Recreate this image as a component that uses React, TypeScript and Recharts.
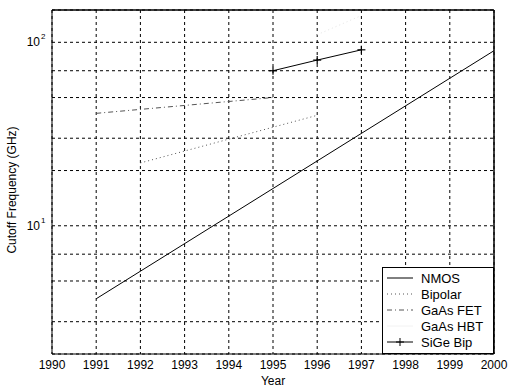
import { LineChart, Line, XAxis, YAxis, CartesianGrid, ReferenceLine } from "recharts";

const years = [1990, 1991, 1992, 1993, 1994, 1995, 1996, 1997, 1998, 1999, 2000];
const nmos = [null, 4, null, null, null, null, null, null, null, null, 90];
const bipolar = [null, null, 22, null, null, null, 40, null, null, null, null];
const gaasFet = [null, 41, null, null, null, 50, null, null, null, null, null];
const gaasHbt = [null, null, null, null, null, null, 110, 140, null, null, null];
const sigeBip = [null, null, null, null, null, 70, 80, 91, null, null, null];

const yTicks = [3, 4, 5, 6, 7, 8, 9, 10, 20, 30, 40, 50, 60, 70, 80, 90, 100];

const data = years.map((y, i) => ({
    year: y,
    nmos: nmos[i],
    bipolar: bipolar[i],
    gaasFet: gaasFet[i],
    gaasHbt: gaasHbt[i],
    sigeBip: sigeBip[i],
}));

const font = "Arial, 'Liberation Sans', Helvetica, sans-serif";

const legendItems = [
    { name: "NMOS", stroke: "#000", dash: undefined, plus: false },
    { name: "Bipolar", stroke: "#555", dash: "1 3", plus: false },
    { name: "GaAs FET", stroke: "#555", dash: "5 3 1 3", plus: false },
    { name: "GaAs HBT", stroke: "#f2f2f2", dash: undefined, plus: false },
    { name: "SiGe Bip", stroke: "#000", dash: undefined, plus: true },
];

const YTick = (props: any) => {
    const { x, y, payload } = props;
    const v = payload.value;
    if (v !== 10 && v !== 100) return null;
    const exp = v === 10 ? "1" : "2";
    return (
        <g>
            <text x={x - 4} y={y + 4} textAnchor="end" fontSize={12} fontFamily={font} fill="#000">10</text>
            <text x={x - 3} y={y - 3} fontSize={8} fontFamily={font} fill="#000">{exp}</text>
        </g>
    );
};

const PlusDot = (props: any) => {
    const { cx, cy, value } = props;
    if (value == null || cx == null) return null;
    return (
        <g stroke="#000" strokeWidth={1.2}>
            <line x1={cx - 4} y1={cy} x2={cx + 4} y2={cy} />
            <line x1={cx} y1={cy - 4} x2={cx} y2={cy + 4} />
        </g>
    );
};

const LegendBox = () => (
    <div style={{ position: "absolute", left: 382, top: 267, border: "1px solid #000", background: "#fff", width: 110, padding: "2px 0 3px", fontFamily: font, fontSize: 13 }}>
        {legendItems.map((it) => (
            <div key={it.name} style={{ display: "flex", alignItems: "center", height: 16 }}>
                <svg width={34} height={16}>
                    <line x1={4} y1={8} x2={30} y2={8} stroke={it.stroke} strokeWidth={1} strokeDasharray={it.dash} />
                    {it.plus && (
                        <g stroke="#000">
                            <line x1={13} y1={8} x2={21} y2={8} />
                            <line x1={17} y1={4} x2={17} y2={12} />
                        </g>
                    )}
                </svg>
                <span style={{ marginLeft: 4 }}>{it.name}</span>
            </div>
        ))}
    </div>
);

export default function App() {
    return (
        <div style={{ position: "absolute", left: 0, top: 0, width: 508, height: 387, background: "#fff" }}>
            <LineChart width={508} height={387} data={data} margin={{ top: 10, right: 14, bottom: 0, left: 0 }}>
                <CartesianGrid stroke="#000" strokeDasharray="3 3" />
                <XAxis
                    dataKey="year"
                    type="number"
                    domain={[1990, 2000]}
                    ticks={years}
                    height={33}
                    tickLine={false}
                    axisLine={{ stroke: "#000" }}
                    tick={{ fontSize: 12, fontFamily: font, fill: "#000" }}
                    tickMargin={0}
                    label={{ value: "Year", position: "insideBottom", offset: 2, fontSize: 12, fontFamily: font, fill: "#000" }}
                />
                <YAxis
                    scale="log"
                    domain={[2, 150]}
                    allowDataOverflow
                    ticks={yTicks}
                    width={52}
                    tickLine={false}
                    axisLine={{ stroke: "#000" }}
                    tick={<YTick />}
                    label={{
                        content: () => (
                            <text x={16} y={190} transform="rotate(-90 16 190)" textAnchor="middle" fontSize={12} fontFamily={font} fill="#000">
                                Cutoff Frequency (GHz)
                            </text>
                        ),
                    }}
                />
                <ReferenceLine x={2000} stroke="#000" strokeWidth={1.5} />
                <ReferenceLine y={150} stroke="#000" strokeWidth={1.5} />
                <Line dataKey="nmos" stroke="#000" strokeWidth={1} dot={false} connectNulls isAnimationActive={false} />
                <Line dataKey="bipolar" stroke="#555" strokeDasharray="1 3" strokeWidth={1} dot={false} connectNulls isAnimationActive={false} />
                <Line dataKey="gaasFet" stroke="#555" strokeDasharray="5 3 1 3" strokeWidth={1} dot={false} connectNulls isAnimationActive={false} />
                <Line dataKey="gaasHbt" stroke="#e4e4e4" strokeDasharray="1 3" strokeWidth={1} dot={false} connectNulls isAnimationActive={false} />
                <Line dataKey="sigeBip" stroke="#000" strokeWidth={1} dot={<PlusDot />} connectNulls isAnimationActive={false} />
            </LineChart>
            <LegendBox />
        </div>
    );
}
